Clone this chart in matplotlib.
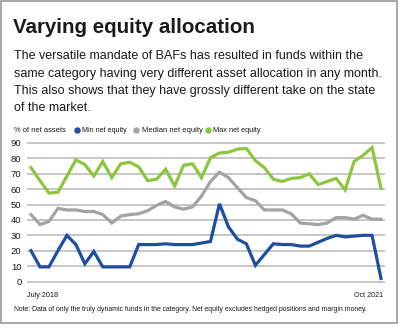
import matplotlib
matplotlib.use("Agg")
import matplotlib.pyplot as plt
from matplotlib.patches import Rectangle
from matplotlib.lines import Line2D

# ---- data ----
months = list(range(40))  # July 2018 .. Oct 2021
min_equity = [20, 9.5, 9.5, 20, 30, 24, 11.5, 19.5, 9.5, 9.5,
              9.5, 9.5, 24, 24, 24, 24.5, 24, 24, 24, 25,
              26, 50.5, 35.5, 27.5, 24.5, 10.5, 17.5, 24.5, 24, 24,
              23, 23, 25.5, 28, 30, 29, 29.5, 30, 30, 2]
median_equity = [43.5, 37, 39, 47.5, 46.5, 46.5, 45.5, 45.5, 43.5, 38,
                 42.5, 43.5, 44, 46, 49.5, 52, 48.5, 47, 48.5, 55.5,
                 65, 71, 67.5, 61, 54.5, 52.5, 46.5, 46.5, 46.5, 44,
                 38, 37.5, 37, 38, 41.5, 41.5, 40.5, 43, 40.5, 40.5]
max_equity = [74, 65.5, 57.5, 58, 68.5, 79, 76, 68.5, 78, 67.5,
              76.5, 77.5, 74.5, 65.5, 66.5, 73, 62, 75.5, 76.5, 67.5,
              80.5, 83.5, 84, 86, 86.5, 78.5, 74, 66.5, 65, 67,
              67.5, 70, 63, 65, 67, 59.5, 78, 82, 87, 60.5]
series_names = ["Min net equity", "Median net equity", "Max net equity"]
yticks = [0, 10, 20, 30, 40, 50, 60, 70, 80, 90]
x_labels = ["July 2018", "Oct 2021"]

title = "Varying equity allocation"
subtitle = ["The versatile mandate of BAFs has resulted in funds within the",
            "same category having very different asset allocation in any month.",
            "This also shows that they have grossly different take on the state",
            "of the market."]
note = ("Note: Data of only the truly dynamic funds in the category. "
        "Net equity excludes hedged positions and margin money.")

BLUE = "#1f4ea1"
GRAY = "#a3a3a3"
GREEN = "#8cc63e"
GRID = "#bcbcbc"
TXT = "#1a1a1a"
FONT = "Liberation Sans"

W, H = 400, 327
fig = plt.figure(figsize=(W / 100, H / 100), dpi=100)
fig.patch.set_facecolor("white")
renderer = fig.canvas.get_renderer()


def P(x, y):
    return (x / W, 1 - y / H)


def fit_text(x, y, s, target_w, ha="left", weight="normal", size=None):
    t = fig.text(*P(x, y), s, fontsize=10, family=FONT, fontweight=weight,
                 color=TXT, va="baseline", ha=ha)
    if size is None:
        w = t.get_window_extent(renderer).width
        size = 10 * target_w / w
    t.set_fontsize(size)
    return t, size


# border
fig.patches.append(Rectangle(P(1, 323), 396 / W, 322 / H, transform=fig.transFigure,
                             fill=False, edgecolor="#9a9a9a", linewidth=1.2))

# title
fit_text(13, 33, title, 242, weight="bold")
_, sub_size = fit_text(14, 59 + 17.5, subtitle[1], 369)
for i, line in enumerate(subtitle):
    if i != 1:
        fit_text(14, 59 + 17.5 * i, line, 0, size=sub_size)

# axes geometry: x index 0 -> 31px, 39 -> 381px ; y 0 -> 281.5, 90 -> 143
x0p, x1p = 31, 381
y0p, y90p = 281.5, 143
ppx = (x1p - x0p) / 39
ppy = (y0p - y90p) / 90
left_px, right_px = 27, 385
ymin_v, ymax_v = -2, 92
xl = -(x0p - left_px) / ppx
xr = 39 + (right_px - x1p) / ppx
bottom_px = y0p - ymin_v * ppy
top_px = y0p - ymax_v * ppy
ax = fig.add_axes([left_px / W, 1 - bottom_px / H, (right_px - left_px) / W,
                   (bottom_px - top_px) / H])
ax.set_xlim(xl, xr)
ax.set_ylim(ymin_v, ymax_v)
for s in ax.spines.values():
    s.set_visible(False)
ax.set_xticks([])
ax.set_yticks(yticks)
ax.set_yticklabels([str(t) for t in yticks], fontsize=6.8, color=TXT, family=FONT)
ax.tick_params(axis="y", length=0, pad=4)
for t in yticks:
    ax.axhline(t, color=GRID, linewidth=1.2, zorder=1)
ax.set_facecolor("none")

ax.plot(months, median_equity, color=GRAY, linewidth=2.3, zorder=3, solid_joinstyle="miter")
ax.plot(months, max_equity, color=GREEN, linewidth=2.3, zorder=3, solid_joinstyle="miter")
ax.plot(months, min_equity, color=BLUE, linewidth=2.3, zorder=4, solid_joinstyle="miter")

# x labels
fit_text(27, 297, x_labels[0], 31)
fit_text(383, 297, x_labels[1], 29, ha="right")

# legend row
fit_text(14, 132.5, "% of net assets", 51)
leg = [(77, BLUE, series_names[0], 45), (136, GRAY, series_names[1], 61),
       (208, GREEN, series_names[2], 48)]
for xp, c, name, tw in leg:
    fig.lines.append(Line2D([xp / W], [1 - 130 / H], marker="o", markersize=3.6,
                            color=c, transform=fig.transFigure, linestyle="none"))
    fit_text(xp + 5.5, 132.5, name, tw)

fit_text(14, 311, note, 353)

fig.savefig("out.png", dpi=100, facecolor="white")
